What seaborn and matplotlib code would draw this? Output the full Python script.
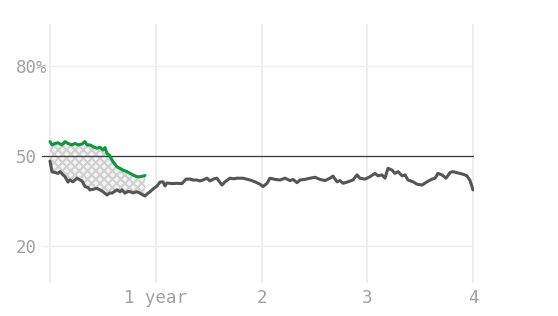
import numpy as np
import pandas as pd
import matplotlib
matplotlib.use("Agg")
import matplotlib.pyplot as plt
import seaborn as sns

# ---- data (years since start, value in %) ----
gray_years = [0.000, 0.019, 0.047, 0.076, 0.095, 0.123, 0.142, 0.170, 0.189, 0.217,
              0.255, 0.284, 0.303, 0.331, 0.359, 0.378, 0.416, 0.444, 0.473, 0.501,
              0.539, 0.567, 0.586, 0.615, 0.634, 0.662, 0.681, 0.709, 0.738, 0.757,
              0.785, 0.823, 0.851, 0.879, 0.898, 0.927, 0.946, 0.974, 1.012, 1.040,
              1.069, 1.087, 1.106, 1.154, 1.201, 1.248, 1.286, 1.324, 1.352, 1.390,
              1.418, 1.447, 1.485, 1.513, 1.551, 1.579, 1.626, 1.655, 1.702, 1.740,
              1.768, 1.825, 1.891, 1.939, 1.967, 1.986, 2.014, 2.052, 2.080, 2.128,
              2.175, 2.222, 2.270, 2.298, 2.336, 2.364, 2.411, 2.459, 2.506, 2.553,
              2.600, 2.648, 2.676, 2.714, 2.742, 2.771, 2.818, 2.865, 2.903, 2.931,
              2.979, 3.026, 3.073, 3.102, 3.139, 3.168, 3.196, 3.234, 3.262, 3.291,
              3.329, 3.357, 3.385, 3.433, 3.470, 3.518, 3.565, 3.612, 3.641, 3.669,
              3.707, 3.745, 3.783, 3.811, 3.849, 3.877, 3.915, 3.943, 3.972, 4.000]
gray_values = [48.3, 44.7, 44.5, 44.2, 44.8, 43.7, 43.1, 41.3, 42.0, 41.4,
               42.6, 42.0, 41.7, 39.8, 39.5, 38.7, 39.0, 39.2, 38.7, 38.1,
               37.0, 37.7, 37.6, 38.3, 38.7, 38.1, 38.7, 37.6, 38.2, 38.1,
               37.7, 38.1, 37.6, 37.0, 36.7, 37.6, 38.1, 39.0, 40.0, 41.3,
               41.4, 40.0, 41.0, 40.8, 40.9, 40.8, 42.3, 42.3, 42.0, 42.0,
               41.7, 42.0, 42.6, 41.7, 42.4, 42.6, 40.3, 41.4, 42.6, 42.4,
               42.6, 42.6, 42.0, 41.4, 40.9, 40.6, 39.8, 40.9, 42.6, 42.2,
               42.0, 42.6, 41.8, 42.2, 41.1, 42.0, 42.2, 42.6, 42.9, 42.2,
               41.8, 42.6, 43.3, 41.4, 41.8, 40.9, 41.4, 42.0, 43.7, 42.6,
               42.3, 43.1, 44.2, 43.4, 43.7, 42.6, 45.9, 45.3, 44.2, 44.8,
               43.4, 43.7, 42.0, 41.4, 40.6, 40.3, 41.4, 42.3, 42.6, 44.2,
               43.7, 42.6, 44.5, 44.8, 44.4, 44.2, 43.8, 43.4, 41.8, 38.7]

green_years = [0.000, 0.019, 0.047, 0.076, 0.113, 0.142, 0.170, 0.208, 0.236, 0.265,
               0.303, 0.331, 0.350, 0.378, 0.407, 0.444, 0.473, 0.501, 0.520, 0.539,
               0.567, 0.596, 0.634, 0.662, 0.690, 0.728, 0.757, 0.785, 0.823, 0.851,
               0.879, 0.898]
green_values = [54.8, 53.7, 54.2, 54.4, 53.7, 54.8, 54.2, 53.7, 54.2, 53.7,
                54.0, 54.8, 53.7, 53.7, 53.1, 52.6, 52.9, 52.0, 52.8, 50.9,
                50.0, 48.1, 46.4, 45.9, 45.3, 44.8, 44.2, 43.7, 43.1, 43.1,
                43.3, 43.5]

reference_level = 50
x_ticks = [0, 1, 2, 3, 4]
x_tick_labels = ["", "1 year", "2", "3", "4"]
y_ticks = [20, 50, 80]
y_tick_labels = ["20", "50", "80%"]

# ---- style ----
sns.set_style("white")
plt.rcParams["font.family"] = ["DejaVu Sans Mono", "DejaVu Sans"]
plt.rcParams["hatch.linewidth"] = 1.5

W, H = 558, 316
fig = plt.figure(figsize=(W / 100, H / 100), dpi=100)
px_per_year = 105.75
left_px, right_px, top_px, bottom_px = 42, 474, 24, 283
ax = fig.add_axes([left_px / W, (H - bottom_px) / H,
                   (right_px - left_px) / W, (bottom_px - top_px) / H])

gray_df = pd.DataFrame({"year": gray_years, "value": gray_values})
green_df = pd.DataFrame({"year": green_years, "value": green_values})

# hatched area between the two series where the green one exists
gx = np.array(green_years)
gy = np.array(green_values)
gr_x = np.array(gray_years)
gr_y = np.array(gray_values)
m = gr_x <= gx.max() + 1e-9
poly_x = np.concatenate([gx, gr_x[m][::-1]])
poly_y = np.concatenate([gy, gr_y[m][::-1]])
ax.fill(poly_x, poly_y, facecolor="#f4f4f4", edgecolor="#d0d0d0", hatch="xxxx",
        linewidth=0, zorder=1)

ax.axhline(reference_level, color="#3a3a3a", lw=0.9, zorder=2)

sns.lineplot(data=gray_df, x="year", y="value", ax=ax, color="#555555",
             lw=2.2, zorder=3, estimator=None, sort=False,
             solid_joinstyle="round", solid_capstyle="round")
sns.lineplot(data=green_df, x="year", y="value", ax=ax, color="#0a9a3a",
             lw=2.2, zorder=4, estimator=None, sort=False,
             solid_joinstyle="round", solid_capstyle="round")

ax.set_xlim(-(50 - left_px) / px_per_year, 4 + (right_px - 473) / px_per_year)
ax.set_ylim(50 - (bottom_px - 156) / 3, 50 + (156 - top_px) / 3)

ax.set_xticks(x_ticks)
ax.set_xticklabels(x_tick_labels)
ax.set_yticks(y_ticks)
ax.set_yticklabels(y_tick_labels)
for lab in ax.get_yticklabels():
    lab.set_horizontalalignment("left")

ax.tick_params(axis="both", length=0, colors="#a0a0a0", labelsize=12.5)
ax.tick_params(axis="y", pad=(left_px - 16) * 0.72)
ax.tick_params(axis="x", pad=4.5)

ax.grid(False)
ax.xaxis.grid(True, color="#eeeeee", lw=1.5)
ax.yaxis.grid(True, color="#eeeeee", lw=1.0)
ax.set_axisbelow(True)
for s in ax.spines.values():
    s.set_visible(False)
ax.set_xlabel("")
ax.set_ylabel("")

fig.savefig("out.png", dpi=100, facecolor="white")
